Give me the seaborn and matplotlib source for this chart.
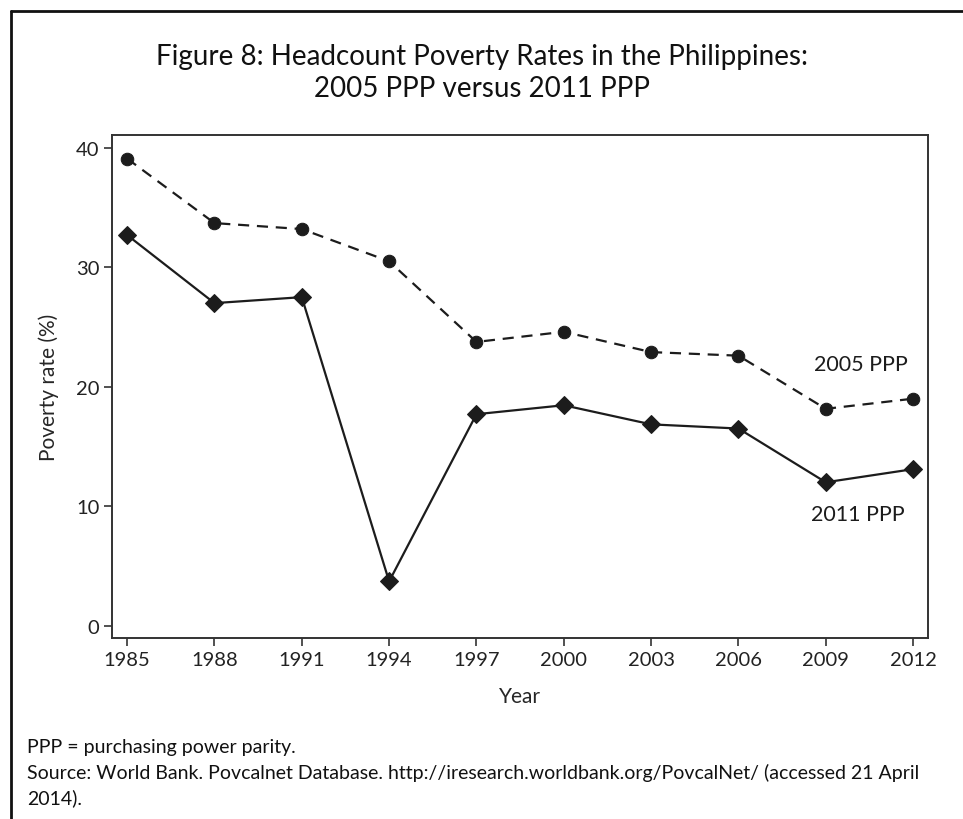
import matplotlib
matplotlib.use("Agg")
import matplotlib.pyplot as plt
import seaborn as sns
import pandas as pd
from matplotlib.lines import Line2D

# Values
years = [1985, 1988, 1991, 1994, 1997, 2000, 2003, 2006, 2009, 2012]
ppp_2005 = [39.1, 33.7, 33.2, 30.5, 23.75, 24.6, 22.9, 22.6, 18.15, 19.0]
ppp_2011 = [32.7, 27.0, 27.5, 3.7, 17.7, 18.45, 16.85, 16.5, 12.0, 13.1]
y_ticks = [0, 10, 20, 30, 40]

df = pd.DataFrame({"Year": years, "2005 PPP": ppp_2005, "2011 PPP": ppp_2011})

sns.set_style("ticks")
plt.rcParams["font.family"] = ["Lato", "DejaVu Sans"]
ink = "#1c1c1c"

fig = plt.figure(figsize=(9.63, 8.2), dpi=100)
ax = fig.add_axes([0.1163, 0.2204, 0.847, 0.6141])

sns.lineplot(data=df, x="Year", y="2005 PPP", ax=ax, color=ink, linewidth=1.6,
             linestyle=(0, (5, 3.5)), marker="o", markersize=9,
             markeredgecolor=ink, markerfacecolor=ink)
sns.lineplot(data=df, x="Year", y="2011 PPP", ax=ax, color=ink, linewidth=1.6,
             marker="D", markersize=9, markeredgecolor=ink, markerfacecolor=ink)

ax.set_xlim(1984.48, 2012.5)
ax.set_ylim(-1.06, 41.1)
ax.set_xticks(years)
ax.set_yticks(y_ticks)
ax.tick_params(axis="both", labelsize=14.5, length=6, width=1.2, color="#333333",
               labelcolor="#222222", pad=3)
for s in ax.spines.values():
    s.set_visible(True)
    s.set_linewidth(1.4)
    s.set_color("#333333")

ax.set_xlabel("Year", fontsize=15, labelpad=13)
ax.set_ylabel("Poverty rate (%)", fontsize=15, labelpad=12)

ax.text(2010.2, 21.9, "2005 PPP", fontsize=15.5, ha="center", va="center", color=ink)
ax.text(2010.1, 9.36, "2011 PPP", fontsize=15.5, ha="center", va="center", color=ink)

fig.text(0.5, 0.911, "Figure 8: Headcount Poverty Rates in the Philippines:\n2005 PPP versus 2011 PPP",
         ha="center", va="center", fontsize=20, linespacing=1.25, color="#111111")

foot = dict(fontsize=14, va="center", color="#111111")
fig.text(0.028, 0.089, "PPP = purchasing power parity.", **foot)
fig.text(0.028, 0.057, "Source: World Bank. Povcalnet Database. http://iresearch.worldbank.org/PovcalNet/ (accessed 21 April",
         **foot)
fig.text(0.028, 0.027, "2014).", **foot)

# partial frame around the figure: top and left edges
fig.add_artist(Line2D([11 / 963, 1.0], [1 - 12 / 820, 1 - 12 / 820], transform=fig.transFigure,
                      color="#111111", linewidth=2, zorder=10))
fig.add_artist(Line2D([11 / 963, 11 / 963], [0.0, 1 - 12 / 820], transform=fig.transFigure,
                      color="#111111", linewidth=2, zorder=10))

fig.savefig("out.png", dpi=100)
